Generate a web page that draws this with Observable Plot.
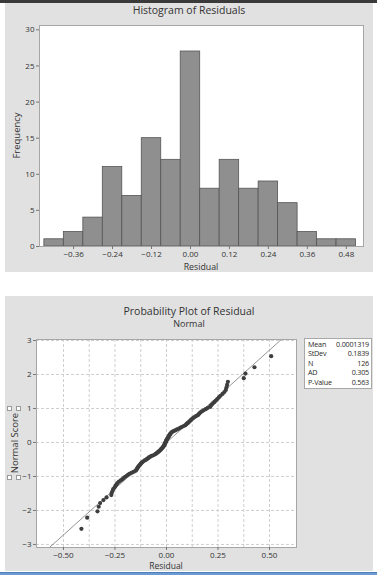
<!DOCTYPE html>
<html>
<head>
<meta charset="utf-8">
<script src="https://cdn.jsdelivr.net/npm/d3@7"></script>
<script src="https://cdn.jsdelivr.net/npm/@observablehq/plot@0.6"></script>
<style>
  html, body { margin: 0; padding: 0; background: #ffffff; width: 377px; height: 575px; overflow: hidden; }
  body { position: relative; font-family: "Open Sans", sans-serif; color: #333; }
  .panel { position: absolute; left: 5px; width: 368px; background: #e1e1e1; }
  .panel svg { position: absolute; left: 0; top: 0; }
  #topbar { position: absolute; left: 0; top: 0; width: 377px; height: 3px; background: #3a3a3a; }
  #bottombar { position: absolute; left: 0; top: 572px; width: 377px; height: 3px; background: #6b9bd2; border-top: 1px solid #4f7fb8; box-sizing: border-box; }
  .legend { position: absolute; left: 299px; top: 42px; width: 68px; height: 51px; background: #fff; border: 1px solid #a8a8a8; box-sizing: border-box; font-size: 7.2px; line-height: 9.4px; padding: 1px 2px 0 3px; letter-spacing: -0.2px; color: #2a2a2a; }
  .legend div { display: flex; justify-content: space-between; }
  .handle { position: absolute; width: 3px; height: 3px; background: #fff; border: 1px solid #999; }
</style>
</head>
<body>
<div id="topbar"></div>
<div id="hist" class="panel" style="top:3px;height:269px;"></div>
<div id="prob" class="panel" style="top:296px;height:275px;"></div>
<div id="bottombar"></div>
<script>
// ---------------- Data: histogram of residuals ----------------
const histBinCenters = [-0.42, -0.36, -0.30, -0.24, -0.18, -0.12, -0.06, 0.00, 0.06, 0.12, 0.18, 0.24, 0.30, 0.36, 0.42, 0.48];
const histCounts     = [1, 2, 4, 11, 7, 15, 12, 27, 8, 12, 8, 9, 6, 2, 1, 1];
const histBinWidth   = 0.06;
const histXTicks     = [-0.36, -0.24, -0.12, 0.00, 0.12, 0.24, 0.36, 0.48];
const histYTicks     = [0, 5, 10, 15, 20, 25, 30];

// ---------------- Data: normal probability plot ----------------
// sorted residuals
const residuals = [
  -0.413, -0.385, -0.335, -0.329, -0.322, -0.306, -0.291,
  -0.268, -0.266, -0.262, -0.259, -0.252, -0.248, -0.243, -0.238, -0.231, -0.222, -0.214,
  -0.208, -0.201, -0.193, -0.186, -0.178, -0.168, -0.158,
  -0.149, -0.146, -0.143, -0.141, -0.138, -0.135, -0.131, -0.128, -0.125, -0.121, -0.117, -0.112, -0.106, -0.099, -0.094,
  -0.089, -0.085, -0.079, -0.072, -0.064, -0.057, -0.052, -0.047, -0.043, -0.039, -0.035, -0.031,
  -0.028, -0.025, -0.022, -0.019, -0.016, -0.014, -0.012, -0.010, -0.009, -0.007, -0.006, -0.004, -0.003, -0.001,
   0.000, 0.002, 0.004, 0.006, 0.008, 0.010, 0.012, 0.014, 0.016, 0.018, 0.021, 0.024, 0.027,
   0.034, 0.042, 0.049, 0.056, 0.062, 0.069, 0.076, 0.084,
   0.091, 0.095, 0.099, 0.104, 0.108, 0.112, 0.116, 0.120, 0.125, 0.130, 0.136, 0.143,
   0.152, 0.156, 0.160, 0.165, 0.172, 0.180, 0.190, 0.199,
   0.211, 0.215, 0.220, 0.226, 0.233, 0.240, 0.247, 0.254, 0.262,
   0.272, 0.281, 0.288, 0.291, 0.294, 0.298,
   0.375, 0.383, 0.427, 0.508
];
const statLabels = ["Mean", "StDev", "N", "AD", "P-Value"];
const statValues = ["0.0001319", "0.1839", "126", "0.305", "0.563"];
const fitMean = 0.0001319;
const fitStDev = 0.1839;
const probXTicks = [-0.50, -0.25, 0.00, 0.25, 0.50];
const probXGrid  = [-0.5, -0.375, -0.25, -0.125, 0, 0.125, 0.25, 0.375, 0.5];
const probYTicks = [-3, -2, -1, 0, 1, 2, 3];

// inverse standard normal CDF (Acklam)
function qnorm(p) {
  const a = [-3.969683028665376e+01, 2.209460984245205e+02, -2.759285104469687e+02, 1.383577518672690e+02, -3.066479806614716e+01, 2.506628277459239e+00];
  const b = [-5.447609879822406e+01, 1.615858368580409e+02, -1.556989798598866e+02, 6.680131188771972e+01, -1.328068155288572e+01];
  const c = [-7.784894002430293e-03, -3.223964580411365e-01, -2.400758277161838e+00, -2.549732539343734e+00, 4.374664141464968e+00, 2.938163982698783e+00];
  const d = [7.784695709041462e-03, 3.224671290700398e-01, 2.445134137142996e+00, 3.754408661907416e+00];
  const pl = 0.02425, ph = 1 - pl;
  let q, r;
  if (p < pl) { q = Math.sqrt(-2 * Math.log(p)); return (((((c[0]*q+c[1])*q+c[2])*q+c[3])*q+c[4])*q+c[5]) / ((((d[0]*q+d[1])*q+d[2])*q+d[3])*q+1); }
  if (p <= ph) { q = p - 0.5; r = q*q; return (((((a[0]*r+a[1])*r+a[2])*r+a[3])*r+a[4])*r+a[5])*q / (((((b[0]*r+b[1])*r+b[2])*r+b[3])*r+b[4])*r+1); }
  q = Math.sqrt(-2 * Math.log(1 - p)); return -(((((c[0]*q+c[1])*q+c[2])*q+c[3])*q+c[4])*q+c[5]) / ((((d[0]*q+d[1])*q+d[2])*q+d[3])*q+1);
}

const FONT = '"Open Sans", sans-serif';
const TXT = "#333";

function addText(svg, x, y, str, size, opts = {}) {
  const t = d3.select(svg).append("text")
    .attr("x", x).attr("y", y)
    .attr("text-anchor", "middle")
    .attr("font-family", FONT)
    .attr("font-size", size)
    .attr("fill", TXT)
    .text(str);
  if (opts.rotate) t.attr("transform", `rotate(-90 ${x} ${y})`);
  if (opts.weight) t.attr("font-weight", opts.weight);
  return t;
}

// ---------------- Histogram ----------------
const histTable = histBinCenters.map((c, i) => ({x1: c - histBinWidth / 2, x2: c + histBinWidth / 2, count: histCounts[i]}));

const hist = Plot.plot({
  width: 368, height: 269,
  marginLeft: 34, marginRight: 10, marginTop: 22, marginBottom: 26,
  style: {background: "transparent", fontFamily: FONT, fontSize: "8px", color: TXT},
  x: {domain: [-0.465, 0.533], axis: null},
  y: {domain: [0, 30.6], axis: null},
  marks: [
    Plot.frame({fill: "white", stroke: "none"}),
    Plot.rectY(histTable, {x1: "x1", x2: "x2", y: "count", fill: "#8f8f8f", stroke: "#555", strokeWidth: 0.8}),
    Plot.frame({stroke: "#a6a6a6"}),
    Plot.axisX(histXTicks, {tickSize: 3, tickPadding: 2, tickFormat: d3.format(".2f"), label: null, stroke: "#777"}),
    Plot.axisY(histYTicks, {tickSize: 3, tickPadding: 2, label: null, stroke: "#777"})
  ]
});
document.getElementById("hist").appendChild(hist);
addText(hist, 184, 11, "Histogram of Residuals", "10.5px", {weight: 500});
addText(hist, 196, 267, "Residual", "8.8px");
addText(hist, 15, 132.5, "Frequency", "9.5px", {rotate: true});

// ---------------- Probability plot ----------------
const n = residuals.length;
const probTable = residuals.map((r, i) => ({residual: r, score: qnorm((i + 1 - 0.3) / (n + 0.4))}));
const fitLine = [-3.4, 3.4].map(z => ({residual: fitMean + fitStDev * z, score: z}));

const prob = Plot.plot({
  width: 368, height: 275,
  marginLeft: 31, marginRight: 77, marginTop: 43, marginBottom: 24,
  style: {background: "transparent", fontFamily: FONT, fontSize: "8px", color: TXT},
  x: {domain: [-0.631, 0.631], axis: null},
  y: {domain: [-3.09, 3.03], axis: null},
  marks: [
    Plot.frame({fill: "white", stroke: "none"}),
    Plot.gridX(probXGrid, {stroke: "#cfcfcf", strokeOpacity: 1, strokeDasharray: "3,2"}),
    Plot.gridY(probYTicks, {stroke: "#cfcfcf", strokeOpacity: 1, strokeDasharray: "3,2"}),
    Plot.line(fitLine, {x: "residual", y: "score", stroke: "#7a7a7a", strokeWidth: 0.8, clip: true}),
    Plot.dot(probTable, {x: "residual", y: "score", r: 2.1, fill: "#3e3e3e", stroke: "none"}),
    Plot.frame({stroke: "#a6a6a6"}),
    Plot.axisX(probXTicks, {tickSize: 3, tickPadding: 1.5, tickFormat: d3.format(".2f"), label: null, stroke: "#777"}),
    Plot.axisY(probYTicks, {tickSize: 3, tickPadding: 2, label: null, stroke: "#777"})
  ]
});
const probDiv = document.getElementById("prob");
probDiv.appendChild(prob);
addText(prob, 184, 18.5, "Probability Plot of Residual", "10.5px", {weight: 500});
addText(prob, 184, 31, "Normal", "9px");
addText(prob, 161, 273, "Residual", "8.5px");
addText(prob, 13, 147, "Normal Score", "9.5px", {rotate: true});

// legend box
const legend = document.createElement("div");
legend.className = "legend";
statLabels.forEach((lab, i) => {
  const row = document.createElement("div");
  const a = document.createElement("span"); a.textContent = lab;
  const b = document.createElement("span"); b.textContent = statValues[i];
  row.appendChild(a); row.appendChild(b);
  legend.appendChild(row);
});
probDiv.appendChild(legend);

// selection handles around the y-axis label
[[2, 110], [11, 110], [2, 179], [11, 179]].forEach(([l, t]) => {
  const h = document.createElement("div");
  h.className = "handle";
  h.style.left = l + "px"; h.style.top = t + "px";
  probDiv.appendChild(h);
});
</script>
</body>
</html>
